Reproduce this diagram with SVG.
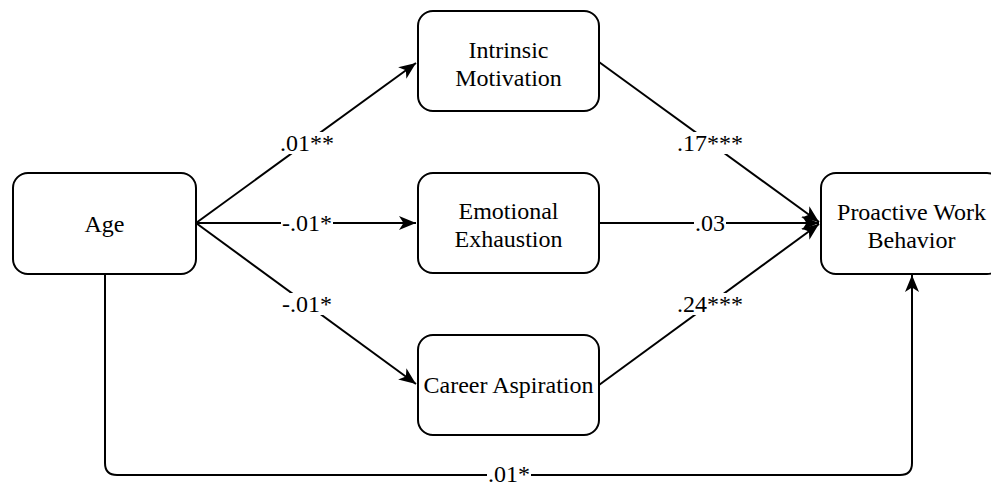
<svg xmlns="http://www.w3.org/2000/svg" width="991" height="486" viewBox="0 0 991 486">
<defs>
<style>
.box{fill:#fff;stroke:#000;stroke-width:2}
.t{font-family:"Liberation Serif","Times New Roman",serif;font-size:24px;fill:#000;text-anchor:middle}
.c{fill:none;stroke:#000;stroke-width:2}
.bg{fill:#fff}
</style>
<marker id="arr" markerWidth="18" markerHeight="16" refX="17" refY="8" orient="auto" markerUnits="userSpaceOnUse">
<path d="M0,1 L17,8 L0,15 L4.5,8 Z" fill="#000"/>
</marker>
</defs>
<rect width="991" height="486" fill="#fff"/>
<g id="connectors">
<line class="c" x1="196" y1="223" x2="416" y2="63" marker-end="url(#arr)"/>
<line class="c" x1="196" y1="223" x2="416" y2="223" marker-end="url(#arr)"/>
<line class="c" x1="196" y1="223" x2="416" y2="384" marker-end="url(#arr)"/>
<line class="c" x1="599" y1="62" x2="819" y2="222" marker-end="url(#arr)"/>
<line class="c" x1="599" y1="223" x2="819" y2="223" marker-end="url(#arr)"/>
<line class="c" x1="599" y1="385" x2="819" y2="224" marker-end="url(#arr)"/>
<path class="c" d="M105,274 V463 Q105,475 117,475 H900 Q912,475 912,463 V275" marker-end="url(#arr)"/>
<g id="labels">
<rect class="bg" x="279" y="132" width="56" height="22"/>
<text class="t" x="307" y="151">.01**</text>
<rect class="bg" x="281" y="212" width="52" height="22"/>
<text class="t" x="307" y="231">-.01*</text>
<rect class="bg" x="281" y="293" width="52" height="22"/>
<text class="t" x="307" y="312">-.01*</text>
<rect class="bg" x="677" y="132" width="66" height="22"/>
<text class="t" x="710" y="151">.17***</text>
<rect class="bg" x="694" y="212" width="32" height="22"/>
<text class="t" x="710" y="231">.03</text>
<rect class="bg" x="677" y="293" width="66" height="22"/>
<text class="t" x="710" y="312">.24***</text>
<rect class="bg" x="487" y="466" width="44" height="19"/>
<text class="t" x="509" y="482">.01*</text>
</g>
</g>
<g id="age">
<rect class="box" x="13" y="173" width="183" height="101" rx="15"/>
<text class="t" x="104.5" y="232">Age</text>
</g>
<g id="intrinsic">
<rect class="box" x="418" y="11" width="181" height="100" rx="15"/>
<text class="t" x="508.5" y="57.5">Intrinsic</text>
<text class="t" x="508.5" y="85.5">Motivation</text>
</g>
<g id="emotional">
<rect class="box" x="418" y="173" width="181" height="100" rx="15"/>
<text class="t" x="508.5" y="219">Emotional</text>
<text class="t" x="508.5" y="247">Exhaustion</text>
</g>
<g id="career">
<rect class="box" x="418" y="335" width="181" height="100" rx="15"/>
<text class="t" x="508.5" y="393">Career Aspiration</text>
</g>
<g id="pwb">
<rect class="box" x="821" y="173" width="181" height="101" rx="15"/>
<text class="t" x="911.5" y="219.5">Proactive Work</text>
<text class="t" x="911.5" y="247.5">Behavior</text>
</g>
</svg>
